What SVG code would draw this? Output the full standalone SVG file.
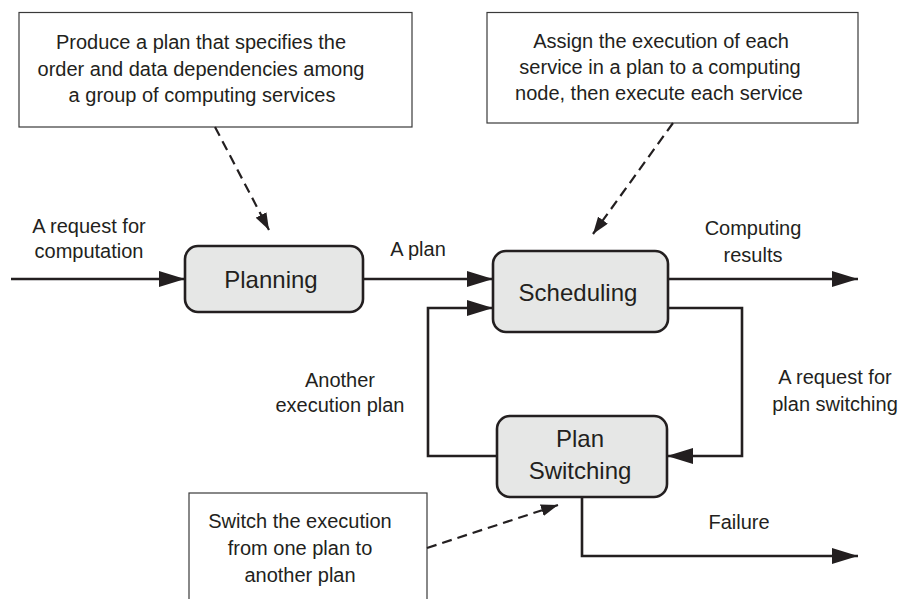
<svg xmlns="http://www.w3.org/2000/svg" width="898" height="599" viewBox="0 0 898 599">
  <style>
    text { font-family: "Liberation Sans", Arial, Helvetica, sans-serif; fill: #231f20; text-anchor: middle; }
    .note-text { font-size: 20px; }
    .label { font-size: 20px; }
    .node-text { font-size: 24px; }
    .note { fill: #ffffff; stroke: #3a3a3a; stroke-width: 1.2; }
    .node { fill: #e6e7e6; stroke: #231f20; stroke-width: 2.6; }
    .flow { fill: none; stroke: #231f20; stroke-width: 2.6; stroke-linejoin: miter; }
    .dash { fill: none; stroke: #231f20; stroke-width: 2.2; stroke-dasharray: 10 6; }
  </style>
  <defs>
    <marker id="solid" viewBox="0 0 26 16" refX="26" refY="8" markerWidth="26" markerHeight="16" markerUnits="userSpaceOnUse" orient="auto">
      <path d="M0,0 L26,8 L0,16 Z" fill="#231f20"/>
    </marker>
    <marker id="small" viewBox="0 0 17 12" refX="17" refY="6" markerWidth="17" markerHeight="12" markerUnits="userSpaceOnUse" orient="auto">
      <path d="M0,0 L17,6 L0,12 Z" fill="#231f20"/>
    </marker>
  </defs>

  <rect width="898" height="599" fill="#ffffff"/>

  <!-- annotation boxes -->
  <g id="note-planning">
    <rect class="note" x="19" y="12.5" width="393" height="114.5"/>
    <text class="note-text" x="201" y="49">Produce a plan that specifies the</text>
    <text class="note-text" x="201" y="76">order and data dependencies among</text>
    <text class="note-text" x="202" y="102">a group of computing services</text>
  </g>
  <g id="note-scheduling">
    <rect class="note" x="487" y="12.5" width="371" height="110.5"/>
    <text class="note-text" x="661" y="48">Assign the execution of each</text>
    <text class="note-text" x="660" y="74">service in a plan to a computing</text>
    <text class="note-text" x="659" y="100">node, then execute each service</text>
  </g>
  <g id="note-switching">
    <rect class="note" x="189" y="493" width="238" height="130"/>
    <text class="note-text" x="300" y="528">Switch the execution</text>
    <text class="note-text" x="300" y="555">from one plan to</text>
    <text class="note-text" x="300" y="582">another plan</text>
  </g>

  <!-- connectors -->
  <g id="connectors">
    <path class="flow" d="M11,279 H185" marker-end="url(#solid)"/>
    <path class="flow" d="M363,279 H493" marker-end="url(#solid)"/>
    <path class="flow" d="M668,279 H858" marker-end="url(#solid)"/>
    <path class="flow" d="M668,308 H742 V456 H667" marker-end="url(#solid)"/>
    <path class="flow" d="M497,456 H428 V308 H493" marker-end="url(#solid)"/>
    <path class="flow" d="M582,497 V556 H858" marker-end="url(#solid)"/>
    <path class="dash" d="M215,127 L269,230" marker-end="url(#small)"/>
    <path class="dash" d="M673,123 L593,234" marker-end="url(#small)"/>
    <path class="dash" d="M427,548 L558,505" marker-end="url(#small)"/>
  </g>

  <!-- connector labels -->
  <g id="labels">
    <text class="label" x="89" y="233">A request for</text>
    <text class="label" x="89" y="258">computation</text>
    <text class="label" x="418" y="256">A plan</text>
    <text class="label" x="753" y="235">Computing</text>
    <text class="label" x="753" y="262">results</text>
    <text class="label" x="340" y="387">Another</text>
    <text class="label" x="340" y="412">execution plan</text>
    <text class="label" x="835" y="384">A request for</text>
    <text class="label" x="835" y="411">plan switching</text>
    <text class="label" x="739" y="529">Failure</text>
  </g>

  <!-- process nodes -->
  <g id="node-planning">
    <rect class="node" x="185" y="246" width="178" height="66" rx="13" ry="13"/>
    <text class="node-text" x="271" y="288">Planning</text>
  </g>
  <g id="node-scheduling">
    <rect class="node" x="493" y="251" width="175" height="81" rx="13" ry="13"/>
    <text class="node-text" x="578" y="301">Scheduling</text>
  </g>
  <g id="node-plan-switching">
    <rect class="node" x="497" y="416" width="170" height="81" rx="13" ry="13"/>
    <text class="node-text" x="580" y="447">Plan</text>
    <text class="node-text" x="580" y="479">Switching</text>
  </g>
</svg>
